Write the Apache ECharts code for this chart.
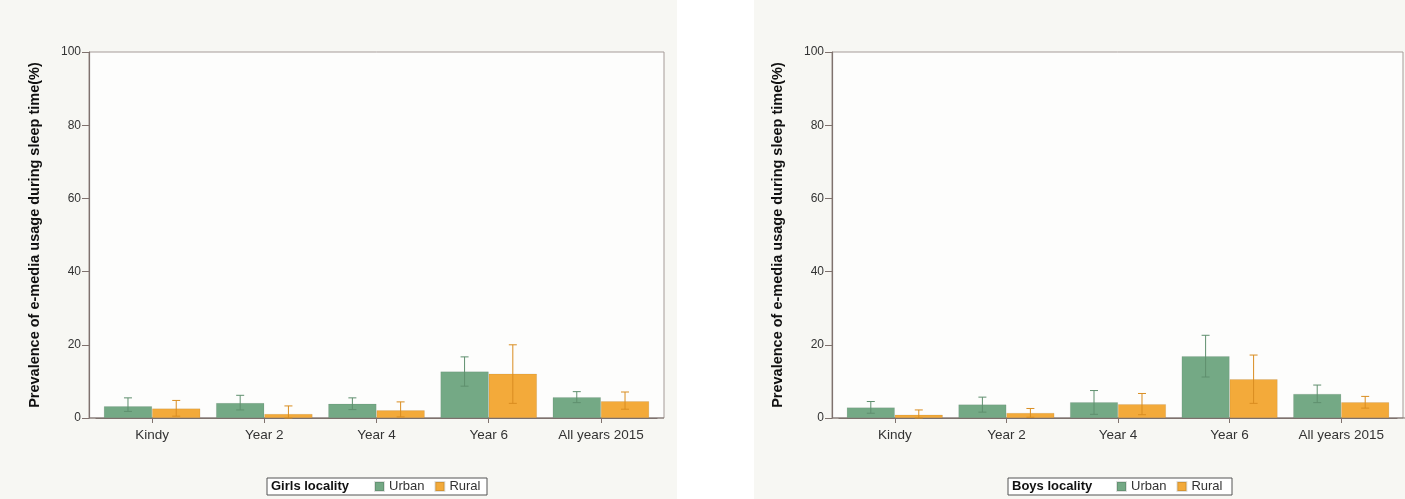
<!DOCTYPE html>
<html>
<head>
<meta charset="utf-8">
<script src="https://cdn.jsdelivr.net/npm/echarts@6/dist/echarts.min.js"></script>
<style>
html,body{margin:0;padding:0;background:#ffffff;}
#c{width:1405px;height:499px;}
</style>
</head>
<body>
<div id="c"></div>
<script>
const categories = ['Kindy', 'Year 2', 'Year 4', 'Year 6', 'All years 2015'];
const yTicks = [0, 20, 40, 60, 80, 100];

// Girls
const girlsUrban = [3.2, 4.1, 3.9, 12.7, 5.7];
const girlsUrbanLow = [1.8, 2.2, 2.3, 8.7, 4.2];
const girlsUrbanHigh = [5.5, 6.2, 5.5, 16.7, 7.2];
const girlsRural = [2.6, 1.1, 2.1, 12.1, 4.6];
const girlsRuralLow = [0.5, 0.0, 0.3, 4.0, 2.4];
const girlsRuralHigh = [4.8, 3.3, 4.4, 20.0, 7.1];

// Boys
const boysUrban = [2.9, 3.7, 4.3, 16.9, 6.6];
const boysUrbanLow = [1.3, 1.6, 1.0, 11.2, 4.2];
const boysUrbanHigh = [4.5, 5.7, 7.5, 22.6, 9.0];
const boysRural = [0.9, 1.4, 3.8, 10.6, 4.3];
const boysRuralLow = [0.0, 0.2, 0.9, 4.0, 2.7];
const boysRuralHigh = [2.2, 2.6, 6.7, 17.2, 5.9];

const yTitle = 'Prevalence of e-media usage during sleep time(%)';
const GREEN = '#74a985';
const ORANGE = '#f3aa3a';
const GREEN_ERR = '#5f8f6e';
const ORANGE_ERR = '#d98d20';
const AXIS = '#7f726e';
const FONT = 'Liberation Sans, Arial, sans-serif';
const CAT_GAP = 0.14;

function errData(lo, hi) {
  return categories.map((c, i) => [i, lo[i], hi[i]]);
}
function errSeries(xi, lo, hi, side, color) {
  return {
    type: 'custom',
    xAxisIndex: xi, yAxisIndex: xi,
    data: errData(lo, hi),
    encode: { x: 0, y: [1, 2] },
    z: 5,
    silent: true,
    renderItem: function (params, api) {
      const i = api.value(0);
      const a = api.coord([i, api.value(1)]);
      const b = api.coord([i, api.value(2)]);
      const band = api.size([1, 0])[0];
      const x = a[0] + side * band * (1 - CAT_GAP) / 4;
      const cap = 4;
      const st = { stroke: color, lineWidth: 1 };
      return {
        type: 'group',
        children: [
          { type: 'line', shape: { x1: x, y1: a[1], x2: x, y2: b[1] }, style: st },
          { type: 'line', shape: { x1: x - cap, y1: b[1], x2: x + cap, y2: b[1] }, style: st },
          { type: 'line', shape: { x1: x - cap, y1: a[1], x2: x + cap, y2: a[1] }, style: st }
        ]
      };
    }
  };
}
function barSeries(name, xi, data, color) {
  return {
    name: name, type: 'bar', xAxisIndex: xi, yAxisIndex: xi,
    data: data, barGap: '0%', barCategoryGap: (CAT_GAP * 100) + '%',
    itemStyle: { color: color, borderColor: 'rgba(0,0,0,0.12)', borderWidth: 0.6 },
    z: 3
  };
}
function xAxis(gi) {
  return {
    type: 'category', gridIndex: gi, data: categories,
    axisLine: { show: true, lineStyle: { color: AXIS, width: 1.2 } },
    axisTick: { show: true, alignWithLabel: true, length: 5, lineStyle: { color: AXIS } },
    axisLabel: { color: '#333', fontSize: 13.5, fontFamily: FONT, margin: 10 }
  };
}
function yAxis(gi) {
  return {
    type: 'value', gridIndex: gi, min: yTicks[0], max: yTicks[yTicks.length - 1], interval: 20,
    offset: 7,
    axisLine: { show: true, lineStyle: { color: AXIS, width: 1.2 } },
    axisTick: { show: true, length: 7, lineStyle: { color: AXIS } },
    axisLabel: { color: '#333', fontSize: 12, fontFamily: FONT, margin: 8 },
    splitLine: { show: false },
    name: yTitle, nameLocation: 'middle', nameGap: 47, nameRotate: 90,
    nameTextStyle: { color: '#111', fontSize: 14.5, fontWeight: 'bold', fontFamily: FONT }
  };
}
function legend(left) {
  return { data: ['Urban', 'Rural'], left: left, top: 480, padding: 0, itemWidth: 9, itemHeight: 9, itemGap: 10, icon: 'rect',
    textStyle: { fontSize: 13, color: '#333', fontFamily: FONT } };
}

const chart = echarts.init(document.getElementById('c'), null, { renderer: 'canvas' });
const option = {
  backgroundColor: '#ffffff',
  animation: false,
  grid: [
    { left: 96, top: 52, width: 561, height: 366 },
    { left: 839, top: 52, width: 558, height: 366 }
  ],
  xAxis: [xAxis(0), xAxis(1)],
  yAxis: [yAxis(0), yAxis(1)],
  legend: [legend(374), legend(1116)],
  graphic: [
    { type: 'rect', z: -10, shape: { x: 0, y: 0, width: 677, height: 499 }, style: { fill: '#f7f7f3' } },
    { type: 'rect', z: -10, shape: { x: 754, y: 0, width: 651, height: 499 }, style: { fill: '#f7f7f3' } },
    { type: 'rect', z: -5, shape: { x: 89, y: 52, width: 575, height: 366 }, style: { fill: '#fdfdfc', stroke: '#a59b98', lineWidth: 1 } },
    { type: 'rect', z: -5, shape: { x: 832, y: 52, width: 571, height: 366 }, style: { fill: '#fdfdfc', stroke: '#a59b98', lineWidth: 1 } },
    { type: 'line', z: 1, shape: { x1: 89, y1: 418, x2: 664, y2: 418 }, style: { stroke: AXIS, lineWidth: 1.2 } },
    { type: 'line', z: 1, shape: { x1: 832, y1: 418, x2: 1405, y2: 418 }, style: { stroke: AXIS, lineWidth: 1.2 } },
    { type: 'rect', z: 1, shape: { x: 267, y: 478, width: 220, height: 17 }, style: { fill: '#ffffff', stroke: '#555', lineWidth: 1 } },
    { type: 'text', z: 2, left: 271, top: 480, style: { text: 'Girls locality', fill: '#111', font: 'bold 13px ' + FONT } },
    { type: 'rect', z: 1, shape: { x: 1008, y: 478, width: 224, height: 17 }, style: { fill: '#ffffff', stroke: '#555', lineWidth: 1 } },
    { type: 'text', z: 2, left: 1012, top: 480, style: { text: 'Boys locality', fill: '#111', font: 'bold 13px ' + FONT } }
  ],
  series: [
    barSeries('Urban', 0, girlsUrban, GREEN),
    barSeries('Rural', 0, girlsRural, ORANGE),
    errSeries(0, girlsUrbanLow, girlsUrbanHigh, -1, GREEN_ERR),
    errSeries(0, girlsRuralLow, girlsRuralHigh, 1, ORANGE_ERR),
    barSeries('Urban', 1, boysUrban, GREEN),
    barSeries('Rural', 1, boysRural, ORANGE),
    errSeries(1, boysUrbanLow, boysUrbanHigh, -1, GREEN_ERR),
    errSeries(1, boysRuralLow, boysRuralHigh, 1, ORANGE_ERR)
  ]
};
chart.setOption(option);
</script>
</body>
</html>
